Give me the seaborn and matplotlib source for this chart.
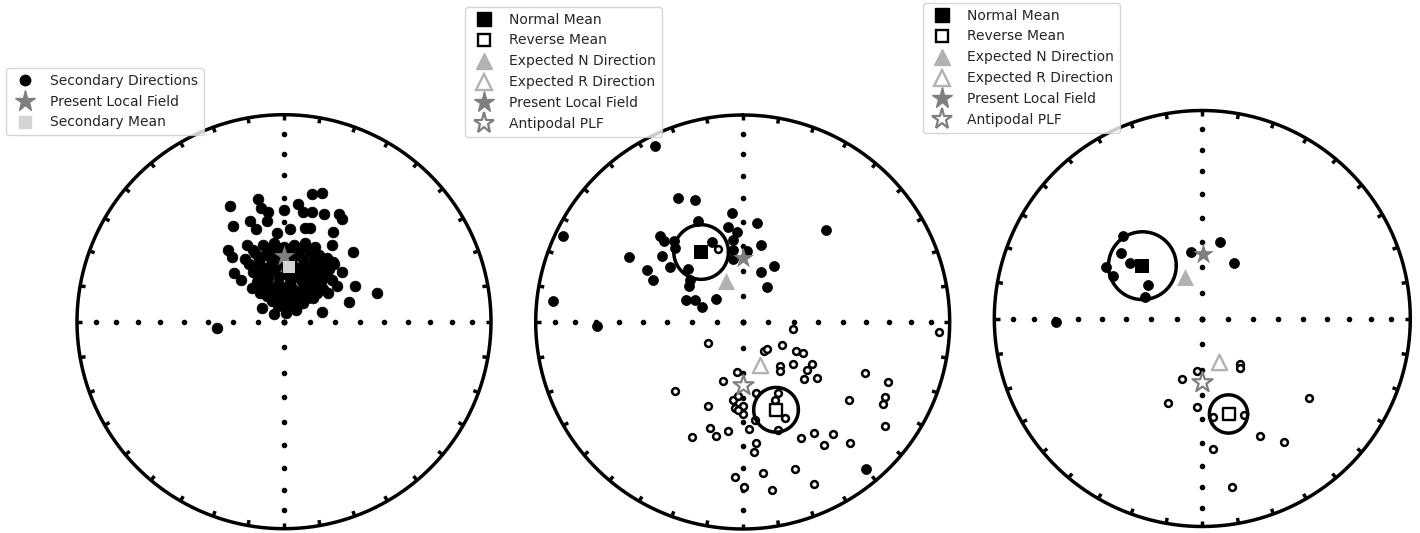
import numpy as np
import matplotlib
matplotlib.use("Agg")
import matplotlib.pyplot as plt
from matplotlib.lines import Line2D
import seaborn as sns

sns.set_style("white")
plt.rcParams["font.family"] = ["DejaVu Sans"]

# ---------------------------------------------------------------
# Directions in equal-area net coordinates (east, north), unit net.
# ---------------------------------------------------------------

# Panel 1: secondary component
sec_e = [-0.261, -0.127, -0.111, -0.076, 0.000, 0.069, 0.090, 0.134, 0.137, 0.185,
         0.193, 0.266, 0.279, -0.245, -0.164, -0.135, -0.084, -0.035, 0.029, 0.101,
         0.126, 0.238, 0.232, 0.335, -0.269, -0.250, -0.180, -0.148, -0.188, -0.242,
         -0.209, -0.156, -0.116, -0.105, -0.047, 0.010, 0.058, 0.182, 0.314, 0.343,
         0.254, 0.451, 0.214, 0.279, 0.235, 0.142, 0.110, -0.325,
         -0.10, -0.05, 0.00, 0.05, 0.10, 0.15,
         -0.14, -0.09, -0.04, 0.02, 0.07, 0.12, 0.17, 0.21,
         -0.17, -0.12, -0.07, -0.02, 0.04, 0.09, 0.14, 0.19, 0.24,
         -0.15, -0.10, -0.05, 0.01, 0.06, 0.11, 0.16, 0.21,
         -0.13, -0.08, -0.03, 0.03, 0.08, 0.13, 0.18, 0.23,
         -0.09, -0.04, 0.01, 0.06, 0.11, 0.16,
         -0.06, -0.01, 0.04, 0.09,
         -0.075, -0.025, 0.025, 0.075, 0.125,
         -0.12, -0.065, -0.015, 0.035, 0.09, 0.145, 0.19,
         -0.14, -0.09, -0.04, 0.015, 0.065, 0.115, 0.165, 0.215,
         -0.125, -0.075, -0.025, 0.035, 0.085, 0.135, 0.185,
         -0.11, -0.06, -0.01, 0.04, 0.09, 0.14, 0.19,
         -0.08, -0.03, 0.02, 0.07, 0.12,
         -0.03, 0.02, 0.065]
sec_n = [0.560, 0.594, 0.551, 0.531, 0.539, 0.568, 0.531, 0.531, 0.615, 0.620,
         0.519, 0.519, 0.496, 0.464, 0.486, 0.448, 0.486, 0.427, 0.448, 0.451,
         0.451, 0.433, 0.370, 0.338, 0.346, 0.314, 0.370, 0.346, 0.301, 0.233,
         0.201, 0.161, 0.137, 0.064, 0.035, 0.040, 0.056, 0.048, 0.097, 0.174,
         0.172, 0.140, 0.137, 0.242, 0.290, 0.113, 0.113, -0.032,
         0.37, 0.38, 0.36, 0.37, 0.38, 0.36,
         0.33, 0.32, 0.34, 0.33, 0.32, 0.34, 0.32, 0.31,
         0.28, 0.29, 0.27, 0.29, 0.28, 0.27, 0.29, 0.27, 0.28,
         0.24, 0.23, 0.25, 0.23, 0.24, 0.22, 0.24, 0.23,
         0.19, 0.20, 0.18, 0.19, 0.20, 0.18, 0.19, 0.20,
         0.15, 0.14, 0.15, 0.14, 0.15, 0.14,
         0.10, 0.09, 0.10, 0.09,
         0.35, 0.355, 0.35, 0.355, 0.35,
         0.305, 0.31, 0.305, 0.31, 0.305, 0.31, 0.30,
         0.26, 0.26, 0.265, 0.26, 0.26, 0.255, 0.26, 0.255,
         0.215, 0.21, 0.215, 0.21, 0.215, 0.205, 0.21,
         0.17, 0.165, 0.17, 0.165, 0.17, 0.165, 0.16,
         0.125, 0.12, 0.125, 0.12, 0.12,
         0.075, 0.07, 0.075]
sec_mean = (0.024, 0.263)
plf_1 = (0.000, 0.317)

# Panel 2: characteristic directions, lower (filled) and upper (open) hemisphere
p2_down_e = [-0.424, -0.870, -0.311, -0.230, -0.053, -0.214, 0.071, 0.403, -0.072, -0.029,
             -0.399, -0.378, -0.330, -0.045, 0.087, -0.147, -0.327, -0.548, -0.391, -0.045,
             -0.045, 0.023, 0.151, -0.464, -0.351, -0.262, -0.432, 0.087, -0.258, 0.116,
             -0.254, -0.275, -0.230, -0.195, -0.130, -0.915, -0.702, 0.597]
p2_down_n = [0.849, 0.417, 0.599, 0.591, 0.527, 0.486, 0.478, 0.443, 0.457, 0.433,
             0.414, 0.393, 0.393, 0.398, 0.374, 0.385, 0.357, 0.312, 0.317, 0.349,
             0.304, 0.341, 0.272, 0.253, 0.266, 0.256, 0.205, 0.240, 0.172, 0.169,
             0.205, 0.105, 0.105, 0.072, 0.111, 0.100, -0.017, -0.710]
p2_up_e = [0.242, 0.950, -0.169, 0.103, 0.116, 0.188, 0.256, 0.293, 0.180, 0.180,
           0.242, 0.333, 0.309, 0.296, 0.361, 0.591, 0.704, -0.026, -0.097, -0.327,
           0.064, 0.169, 0.156, -0.048, -0.024, -0.166, -0.037, 0.003, 0.003, -0.021,
           0.514, 0.688, 0.676, 0.688, 0.206, 0.060, 0.032, 0.172, -0.158, -0.130,
           -0.069, -0.243, 0.280, 0.345, 0.438, 0.391, 0.517, 0.064, 0.056, 0.253,
           0.097, -0.037, 0.006, 0.143, 0.343, -0.121]
p2_up_n = [-0.034, -0.047, -0.101, -0.142, -0.130, -0.113, -0.138, -0.150, -0.214, -0.238,
           -0.203, -0.201, -0.230, -0.274, -0.271, -0.246, -0.291, -0.243, -0.287, -0.332,
           -0.343, -0.343, -0.375, -0.375, -0.356, -0.404, -0.415, -0.407, -0.444, -0.424,
           -0.378, -0.362, -0.395, -0.504, -0.464, -0.472, -0.517, -0.523, -0.512, -0.549,
           -0.528, -0.557, -0.560, -0.536, -0.539, -0.594, -0.586, -0.585, -0.628, -0.709,
           -0.729, -0.750, -0.797, -0.810, -0.783, 0.353]
p2_normal_mean = (-0.201, 0.338)
p2_normal_a95 = 0.132
p2_reverse_mean = (0.161, -0.424)
p2_reverse_a95 = 0.108

# Panel 3: site-level directions
p3_down_e = [-0.382, -0.390, -0.349, -0.465, -0.430, -0.261, -0.277, -0.056, 0.085, 0.150, -0.704]
p3_down_n = [0.395, 0.317, 0.266, 0.250, 0.205, 0.161, 0.101, 0.322, 0.370, 0.269, -0.016]
p3_up_e = [0.179, 0.179, -0.027, -0.097, -0.164, -0.027, 0.053, 0.201, 0.275, 0.391, 0.512, 0.053, 0.142]
p3_up_n = [-0.217, -0.237, -0.250, -0.290, -0.407, -0.427, -0.472, -0.462, -0.564, -0.596, -0.382, -0.628, -0.810]
p3_normal_mean = (-0.288, 0.254)
p3_normal_a95 = 0.163
p3_reverse_mean = (0.126, -0.459)
p3_reverse_a95 = 0.092

# Reference directions shared by panels 2 and 3
plf = (0.002, 0.308)
plf_anti = (0.000, -0.305)
exp_n = (-0.081, 0.200)
exp_r = (0.082, -0.208)

legend_1 = ["Secondary Directions", "Present Local Field", "Secondary Mean"]
legend_2 = ["Normal Mean", "Reverse Mean", "Expected N Direction",
            "Expected R Direction", "Present Local Field", "Antipodal PLF"]

# ---------------------------------------------------------------
W, H = 1420, 533
fig = plt.figure(figsize=(W / 100, H / 100), dpi=100)

LW = 2.5
PLF_C = "#7f7f7f"
EXP_C = "#b2b2b2"
SEC_C = "#d3d3d3"


def equal_area(dec, inc):
    d = np.radians(dec)
    r = np.sqrt(1.0 - np.sin(np.radians(np.abs(inc))))
    return r * np.sin(d), r * np.cos(d)


def make_net(cx, cy, R):
    half = 1.05 * R
    ax = fig.add_axes([(cx - half) / W, (H - cy - half) / H, 2 * half / W, 2 * half / H])
    ax.set_xlim(-1.05, 1.05)
    ax.set_ylim(-1.05, 1.05)
    ax.set_axis_off()
    # primitive circle
    x, y = equal_area(np.arange(0, 361), np.zeros(361))
    ax.plot(x, y, color="k", lw=LW, zorder=1, clip_on=False)
    # declination ticks every 10 degrees
    for d in range(0, 360, 10):
        x, y = equal_area(np.full(4, d), np.arange(4))
        ax.plot(x, y, color="k", lw=LW, zorder=1, solid_capstyle="butt", clip_on=False)
    # inclination marks along the cardinal directions
    for d in (0, 90, 180, 270):
        x, y = equal_area(np.full(9, d), np.arange(10, 100, 10))
        ax.plot(x, y, "k.", ms=6, zorder=1)
    return ax


def small_circle(ax, centre, radius):
    t = np.linspace(0, 2 * np.pi, 200)
    ax.plot(centre[0] + radius * np.cos(t), centre[1] + radius * np.sin(t),
            color="k", lw=LW, zorder=4)


def dots(ax, e, n, filled, size):
    if filled:
        sns.scatterplot(x=e, y=n, ax=ax, color="k", edgecolor="k", linewidth=0.5,
                        s=size, zorder=3, legend=False)
    else:
        sns.scatterplot(x=e, y=n, ax=ax, color="white", edgecolor="k", linewidth=1.8,
                        s=size, zorder=3, legend=False)


def marker(ax, pt, m, face, edge, size, lw=0.0, z=5):
    sns.scatterplot(x=[pt[0]], y=[pt[1]], ax=ax, marker=m, color=face, edgecolor=edge,
                    linewidth=lw, s=size, zorder=z, legend=False)


def put_legend(ax, handles, labels, x, y):
    ax.legend(handles, labels, loc="upper left", bbox_to_anchor=(x / W, 1 - y / H),
              bbox_transform=fig.transFigure, borderaxespad=0, fontsize=10)


# ---------------- panel 1 ----------------
ax1 = make_net(284.0, 321.7, 207)
dots(ax1, sec_e, sec_n, True, 60)
marker(ax1, plf_1, "*", PLF_C, PLF_C, 250)
marker(ax1, sec_mean, "s", SEC_C, SEC_C, 80)
h1 = [Line2D([], [], ls="none", marker="o", color="k", ms=7.5),
      Line2D([], [], ls="none", marker="*", color=PLF_C, ms=15.8),
      Line2D([], [], ls="none", marker="s", color=SEC_C, ms=8.9)]
put_legend(ax1, h1, legend_1, 6, 68)


def ref_panel(ax, down_e, down_n, up_e, up_n, nmean, na95, rmean, ra95):
    dots(ax, down_e, down_n, True, 52)
    dots(ax, up_e, up_n, False, 24)
    small_circle(ax, nmean, na95)
    small_circle(ax, rmean, ra95)
    marker(ax, nmean, "s", "k", "k", 95)
    marker(ax, rmean, "s", "white", "k", 66, lw=1.7)
    marker(ax, exp_n, "^", EXP_C, EXP_C, 150)
    marker(ax, exp_r, "^", "white", EXP_C, 120, lw=1.7)
    marker(ax, plf, "*", PLF_C, PLF_C, 250)
    marker(ax, plf_anti, "*", "white", PLF_C, 230, lw=1.6)


def ref_handles():
    return [Line2D([], [], ls="none", marker="s", mfc="k", mec="k", ms=9.7),
            Line2D([], [], ls="none", marker="s", mfc="white", mec="k", mew=1.7, ms=8.1),
            Line2D([], [], ls="none", marker="^", mfc=EXP_C, mec=EXP_C, ms=12.2),
            Line2D([], [], ls="none", marker="^", mfc="white", mec=EXP_C, mew=1.7, ms=11),
            Line2D([], [], ls="none", marker="*", mfc=PLF_C, mec=PLF_C, ms=15.8),
            Line2D([], [], ls="none", marker="*", mfc="white", mec=PLF_C, mew=1.6, ms=15.2)]


# ---------------- panel 2 ----------------
ax2 = make_net(742.7, 322.0, 207)
ref_panel(ax2, p2_down_e, p2_down_n, p2_up_e, p2_up_n,
          p2_normal_mean, p2_normal_a95, p2_reverse_mean, p2_reverse_a95)
put_legend(ax2, ref_handles(), legend_2, 465, 7)

# ---------------- panel 3 ----------------
ax3 = make_net(1202.3, 318.5, 208)
ref_panel(ax3, p3_down_e, p3_down_n, p3_up_e, p3_up_n,
          p3_normal_mean, p3_normal_a95, p3_reverse_mean, p3_reverse_a95)
put_legend(ax3, ref_handles(), legend_2, 923, 3)

fig.savefig("out.png", dpi=100)
